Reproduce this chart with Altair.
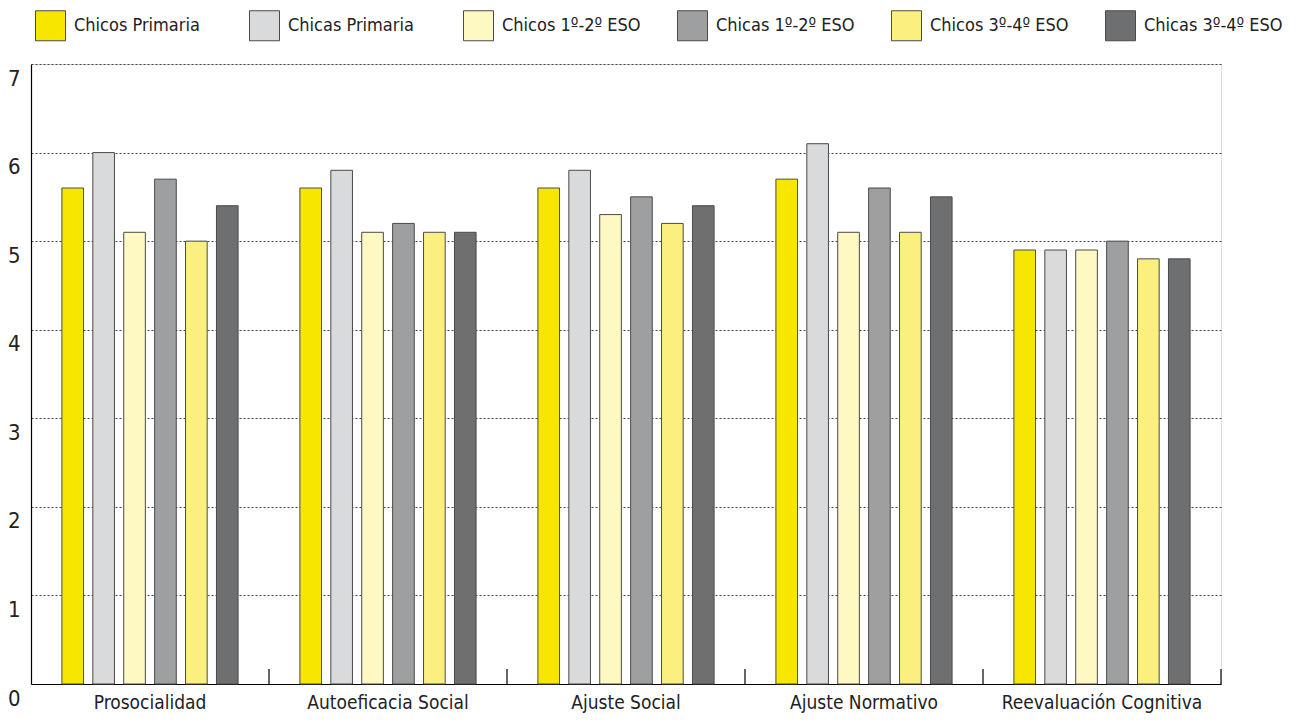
import altair as alt
import pandas as pd

categories = ["Prosocialidad", "Autoeficacia Social", "Ajuste Social", "Ajuste Normativo", "Reevaluación Cognitiva"]
groups = ["Chicos Primaria", "Chicas Primaria", "Chicos 1º-2º ESO", "Chicas 1º-2º ESO", "Chicos 3º-4º ESO", "Chicas 3º-4º ESO"]
colors = ["#F6E600", "#D9DADB", "#FEF8C2", "#9E9FA0", "#FBF07F", "#6E6F70"]

chicos_primaria = [5.6, 5.6, 5.6, 5.7, 4.9]
chicas_primaria = [6.0, 5.8, 5.8, 6.1, 4.9]
chicos_12 = [5.1, 5.1, 5.3, 5.1, 4.9]
chicas_12 = [5.7, 5.2, 5.5, 5.6, 5.0]
chicos_34 = [5.0, 5.1, 5.2, 5.1, 4.8]
chicas_34 = [5.4, 5.1, 5.4, 5.5, 4.8]

series = [chicos_primaria, chicas_primaria, chicos_12, chicas_12, chicos_34, chicas_34]
rows = []
for g, vals in zip(groups, series):
    for c, v in zip(categories, vals):
        rows.append({"cat": c, "grupo": g, "valor": v})
df = pd.DataFrame(rows)
cats_df = pd.DataFrame({"cat": categories})

FONT = "DejaVu Sans Condensed, Liberation Sans, sans-serif"
W, H = 1190, 620

x_scale = alt.Scale(domain=categories, paddingInner=0, paddingOuter=0)

bars = alt.Chart(df).mark_bar(stroke="#4a4a4a", strokeWidth=1).encode(
    x=alt.X("cat:N", scale=x_scale, sort=categories,
            axis=alt.Axis(title=None, labelAngle=0, ticks=False, labelPadding=9,
                          labelFontSize=19, labelColor="#222", labelFont=FONT,
                          labelLimit=400,
                          domainColor="#000", domainWidth=1.2, grid=False)),
    xOffset=alt.XOffset("grupo:N", sort=groups,
                        scale=alt.Scale(domain=groups, paddingInner=0.3, paddingOuter=1)),
    y=alt.Y("valor:Q", scale=alt.Scale(domain=[0, 7], nice=False),
            axis=alt.Axis(title=None, values=[0, 1, 2, 3, 4, 5, 6, 7], ticks=False,
                          labelFontSize=22, labelColor="#222", labelFont=FONT,
                          labelBaseline="top", labelOffset=4, labelFlush=False,
                          labelPadding=11, domainColor="#000", domainWidth=1.2,
                          grid=True, gridColor="#444", gridDash=[2, 2], gridWidth=1)),
    color=alt.Color("grupo:N", sort=groups,
                    scale=alt.Scale(domain=groups, range=colors),
                    legend=alt.Legend(title=None, orient="none", direction="horizontal",
                                      columns=6, gridAlign="all", legendX=4, legendY=-54,
                                      symbolType="square", symbolSize=900,
                                      symbolStrokeColor="#4a4a4a", symbolStrokeWidth=1,
                                      symbolOpacity=1, labelFontSize=18, labelFont=FONT,
                                      labelColor="#222", labelOffset=8, columnPadding=34,
                                      labelLimit=300)),
)

ticks = alt.Chart(cats_df).mark_rule(color="#000", strokeWidth=1.2).encode(
    x=alt.X("cat:N", scale=x_scale, sort=categories, bandPosition=1),
    y=alt.value(H - 15),
    y2=alt.value(H),
)

chart = alt.layer(bars, ticks).properties(
    width=W, height=H,
    autosize=alt.AutoSizeParams(type="none"),
    padding={"left": 23, "top": 56, "right": 80, "bottom": 30},
).configure_view(stroke=None).configure(background="white")

chart.save("out.html", embed_options={"renderer": "svg", "actions": False})
